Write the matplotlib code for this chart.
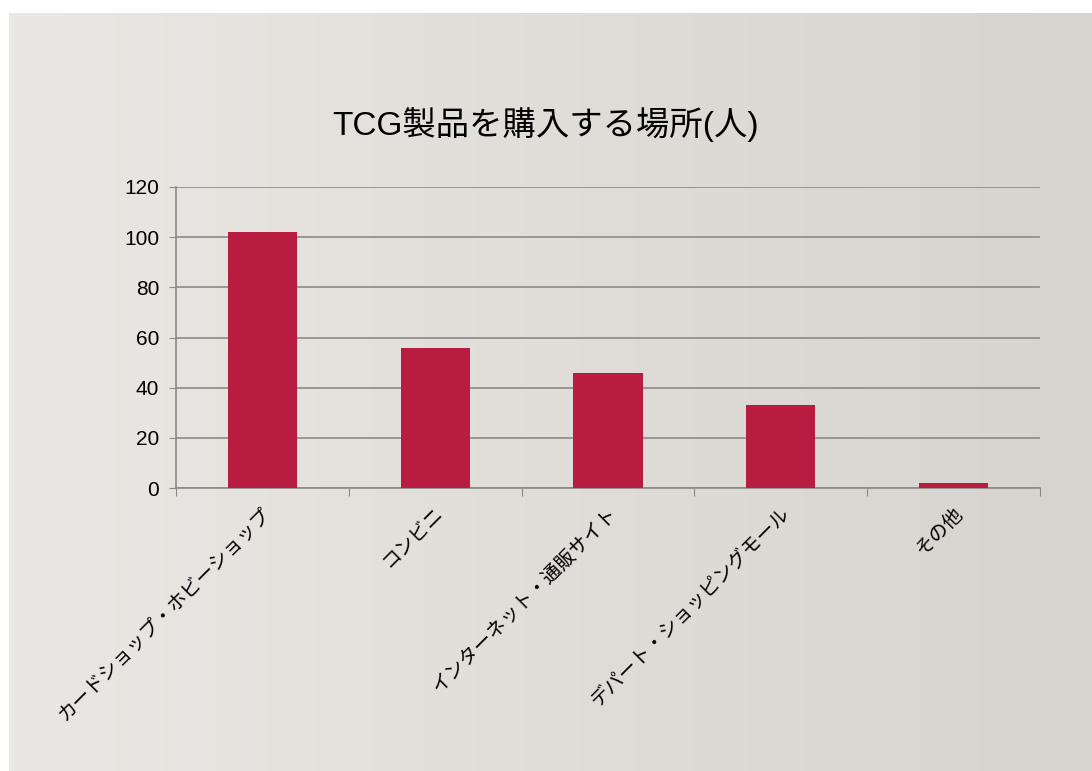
import matplotlib.pyplot as plt
import numpy as np

plt.rcParams['font.family'] = ['Liberation Sans', 'Noto Sans CJK JP', 'DejaVu Sans']

places = ['カードショップ・ホビーショップ', 'コンビニ', 'インターネット・通販サイト',
          'デパート・ショッピングモール', 'その他']
people = [102, 56, 46, 33, 2]
yticks = [0, 20, 40, 60, 80, 100, 120]

W, H = 1092, 771
fig = plt.figure(figsize=(W / 100, H / 100), dpi=100)
fig.patch.set_facecolor('white')

# grey panel with a soft left-to-right gradient
bg = fig.add_axes([9 / W, 0, 1 - 9 / W, 1 - 13 / H])
c1 = np.array([234, 232, 228]) / 255
c2 = np.array([215, 211, 206]) / 255
t = np.linspace(0, 1, 256)[None, :, None]
grad = c1 + (c2 - c1) * t
bg.imshow(grad, aspect='auto', extent=[0, 1, 0, 1])
bg.set_axis_off()

ax = fig.add_axes([176 / W, 1 - 488 / H, (1040 - 176) / W, (488 - 187) / H])
ax.patch.set_alpha(0)
x = np.arange(len(places))
ax.bar(x, people, width=0.4, color='#b81c40', zorder=3)

ax.set_xlim(-0.5, len(places) - 0.5)
ax.set_ylim(0, 120)
ax.set_yticks(yticks)
ax.tick_params(axis='y', labelsize=15, length=5, color='#8a8a8a', pad=7)
ax.yaxis.grid(True, color='#8a8a8a', linewidth=1.2, zorder=0)

# category ticks sit between the bars, labels at bar centres
ax.set_xticks(np.arange(len(places) + 1) - 0.5)
ax.set_xticklabels([])
ax.tick_params(axis='x', length=6, color='#8a8a8a')
ax.set_xticks(x, minor=True)
ax.set_xticklabels(places, minor=True, rotation=45, ha='right', rotation_mode='anchor',
                   fontsize=14)
ax.tick_params(axis='x', which='minor', length=0, pad=12)

for s in ['top', 'right']:
    ax.spines[s].set_visible(False)
for s in ['left', 'bottom']:
    ax.spines[s].set_color('#8a8a8a')
    ax.spines[s].set_linewidth(1.2)

fig.text(0.5, 1 - 125 / H, 'TCG製品を購入する場所(人)', ha='center', va='center',
         fontsize=24)

fig.savefig('out.png', dpi=100)
